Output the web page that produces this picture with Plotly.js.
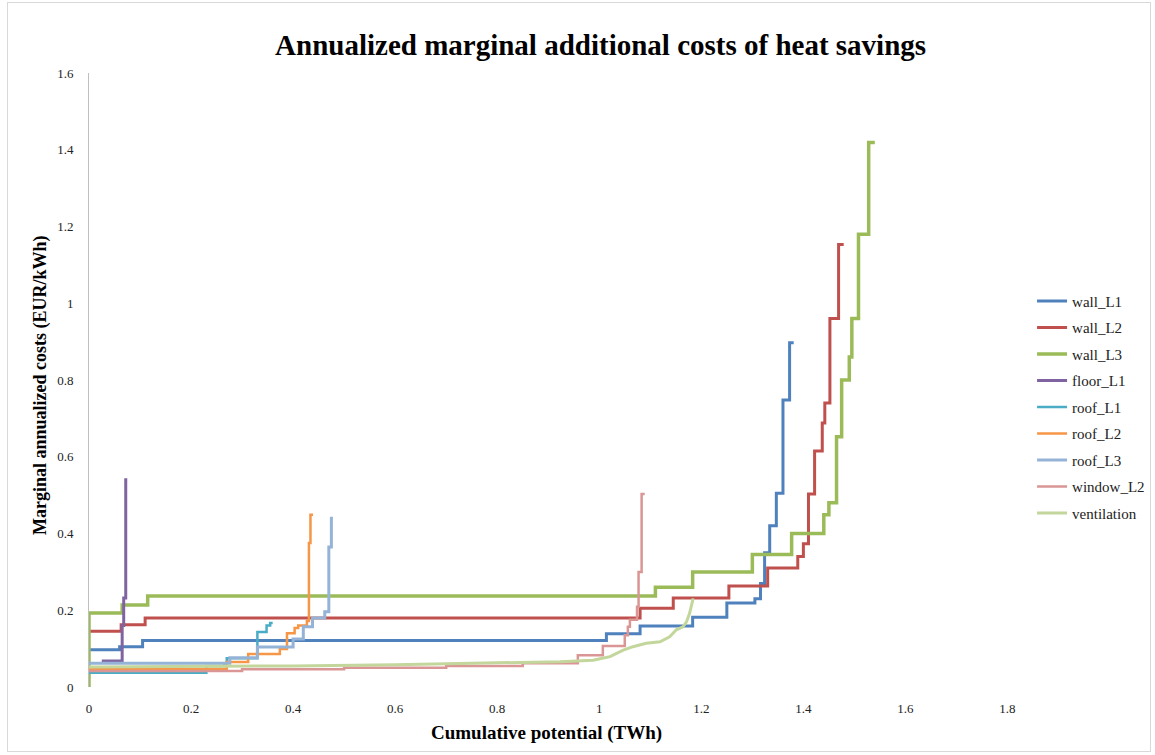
<!DOCTYPE html>
<html>
<head>
<meta charset="utf-8">
<script src="https://cdn.plot.ly/plotly-3.0.1.min.js"></script>
<style>
html,body{margin:0;padding:0;background:#fff;}
#chart{width:1155px;height:755px;}
#frame{position:absolute;left:7px;top:2px;width:1142px;height:748px;border:1px solid #d9d9d9;pointer-events:none;}
</style>
</head>
<body>
<div id="chart"></div>
<div id="frame"></div>
<script>
// ---- data ----
const seriesNames = ["wall_L1","wall_L2","wall_L3","floor_L1","roof_L1","roof_L2","roof_L3","window_L2","ventilation"];

const wallL1X = [0, 0.06, 0.105, 1.014, 1.08, 1.183, 1.25, 1.305, 1.316, 1.324, 1.334, 1.347, 1.36, 1.373, 1.381];
const wallL1Y = [0.097, 0.105, 0.121, 0.139, 0.159, 0.182, 0.219, 0.23, 0.27, 0.35, 0.42, 0.505, 0.748, 0.897, 0.897];

const wallL2X = [0, 0.063, 0.11, 1.08, 1.145, 1.254, 1.33, 1.389, 1.40, 1.41, 1.422, 1.437, 1.442, 1.452, 1.469, 1.479];
const wallL2Y = [0.145, 0.162, 0.18, 0.205, 0.232, 0.263, 0.31, 0.34, 0.373, 0.503, 0.615, 0.688, 0.74, 0.96, 1.153, 1.153];

const wallL3X = [0, 0, 0.065, 0.115, 1.11, 1.183, 1.30, 1.377, 1.44, 1.45, 1.465, 1.475, 1.49, 1.495, 1.508, 1.528, 1.54];
const wallL3Y = [0, 0.193, 0.214, 0.237, 0.26, 0.30, 0.345, 0.40, 0.449, 0.48, 0.652, 0.80, 0.86, 0.96, 1.18, 1.419, 1.419];

const floorL1X = [0.025, 0.065, 0.068, 0.072, 0.075];
const floorL1Y = [0.068, 0.16, 0.232, 0.54, 0.54];

const roofL1X = [0, 0.23, 0.265, 0.27, 0.33, 0.348, 0.355, 0.36];
const roofL1Y = [0.037, 0.055, 0.062, 0.075, 0.143, 0.16, 0.167, 0.167];

const roofL2X = [0, 0.27, 0.312, 0.374, 0.388, 0.403, 0.41, 0.427, 0.431, 0.434, 0.439];
const roofL2Y = [0.047, 0.065, 0.086, 0.099, 0.14, 0.154, 0.16, 0.172, 0.375, 0.449, 0.449];

const roofL3X = [0, 0.276, 0.33, 0.40, 0.42, 0.438, 0.462, 0.47, 0.475, 0.478];
const roofL3Y = [0.062, 0.076, 0.104, 0.125, 0.157, 0.18, 0.196, 0.365, 0.44, 0.44];

const windowL2X = [0, 0.3, 0.5, 0.7, 0.85, 0.958, 1.007, 1.05, 1.056, 1.06, 1.074, 1.077, 1.083, 1.089];
const windowL2Y = [0.042, 0.046, 0.05, 0.055, 0.062, 0.083, 0.107, 0.135, 0.157, 0.175, 0.209, 0.30, 0.503, 0.503];

const ventX = [0, 0.2, 0.4, 0.6, 0.8, 0.923, 0.988, 1.021, 1.047, 1.066, 1.092, 1.119, 1.138, 1.151, 1.164, 1.171, 1.177, 1.184];
const ventY = [0.052, 0.053, 0.055, 0.058, 0.062, 0.066, 0.070, 0.079, 0.096, 0.105, 0.114, 0.118, 0.131, 0.149, 0.157, 0.170, 0.192, 0.231];

const xTickVals = [0, 0.2, 0.4, 0.6, 0.8, 1, 1.2, 1.4, 1.6, 1.8];
const xTickText = ["0","0.2","0.4","0.6","0.8","1","1.2","1.4","1.6","1.8"];
const yTickVals = [0, 0.2, 0.4, 0.6, 0.8, 1, 1.2, 1.4, 1.6];
const yTickText = ["0","0.2","0.4","0.6","0.8","1","1.2","1.4","1.6"];

const chartTitle = "Annualized marginal additional costs of heat savings";
const xTitle = "Cumulative potential (TWh)";
const yTitle = "Marginal annualized costs (EUR/kWh)";

// ---- styles ----
const colors = ["#4F81BD","#C0504D","#9BBB59","#8064A2","#4BACC6","#F79646","#95B3D7","#D99694","#C3D69B"];
const widths = [3, 3, 3.5, 3, 2.5, 2.5, 3, 2.5, 3];
const shapes = ["hv","hv","hv","hv","hv","hv","hv","hv","linear"];

const xs = [wallL1X, wallL2X, wallL3X, floorL1X, roofL1X, roofL2X, roofL3X, windowL2X, ventX];
const ys = [wallL1Y, wallL2Y, wallL3Y, floorL1Y, roofL1Y, roofL2Y, roofL3Y, windowL2Y, ventY];

const serif = "Liberation Serif, Times New Roman, serif";

const traces = seriesNames.map((n, i) => ({
  type: "scatter",
  mode: "lines",
  name: n,
  legendgroup: n,
  x: xs[i],
  y: ys[i],
  line: {color: colors[i], width: widths[i], shape: shapes[i]}
}));

const layout = {
  width: 1155,
  height: 755,
  paper_bgcolor: "#ffffff",
  plot_bgcolor: "#ffffff",
  margin: {l: 89, r: 122, t: 73, b: 68, autoexpand: false},
  title: {
    text: "<b>" + chartTitle + "</b>",
    font: {family: serif, size: 29, color: "#000"},
    xref: "container", x: 0.52, xanchor: "center",
    yref: "container", y: 0.94, yanchor: "middle"
  },
  xaxis: {
    range: [0, 1.85],
    tickvals: xTickVals,
    ticktext: xTickText,
    showgrid: false,
    zeroline: false,
    showline: false,
    ticks: "",
    ticklabelstandoff: 12,
    tickfont: {family: serif, size: 13, color: "#222"}
  },
  yaxis: {
    range: [0, 1.6],
    tickvals: yTickVals,
    ticktext: yTickText,
    showgrid: false,
    zeroline: false,
    showline: true,
    linecolor: "#BFBFBF",
    linewidth: 1,
    ticks: "",
    ticklabelstandoff: 12,
    tickfont: {family: serif, size: 13, color: "#222"}
  },
  annotations: [
    {text: "<b>" + xTitle + "</b>", xref: "paper", yref: "paper",
     x: (546 - 89) / 944, y: -(733 - 687) / 614, xanchor: "center", yanchor: "middle",
     showarrow: false, font: {family: serif, size: 19, color: "#000"}},
    {text: "<b>" + yTitle + "</b>", xref: "paper", yref: "paper", textangle: -90,
     x: -(89 - 40) / 944, y: (687 - 385) / 614, xanchor: "center", yanchor: "middle",
     showarrow: false, font: {family: serif, size: 18, color: "#000"}}
  ],
  showlegend: true,
  legend: {
    x: 0.999, xanchor: "left",
    y: 0.655, yanchor: "top",
    font: {family: serif, size: 15, color: "#222"},
    tracegroupgap: 4,
    bgcolor: "rgba(0,0,0,0)",
    itemwidth: 30
  }
};

Plotly.newPlot("chart", traces, layout, {staticPlot: true, displayModeBar: false});
</script>
</body>
</html>
